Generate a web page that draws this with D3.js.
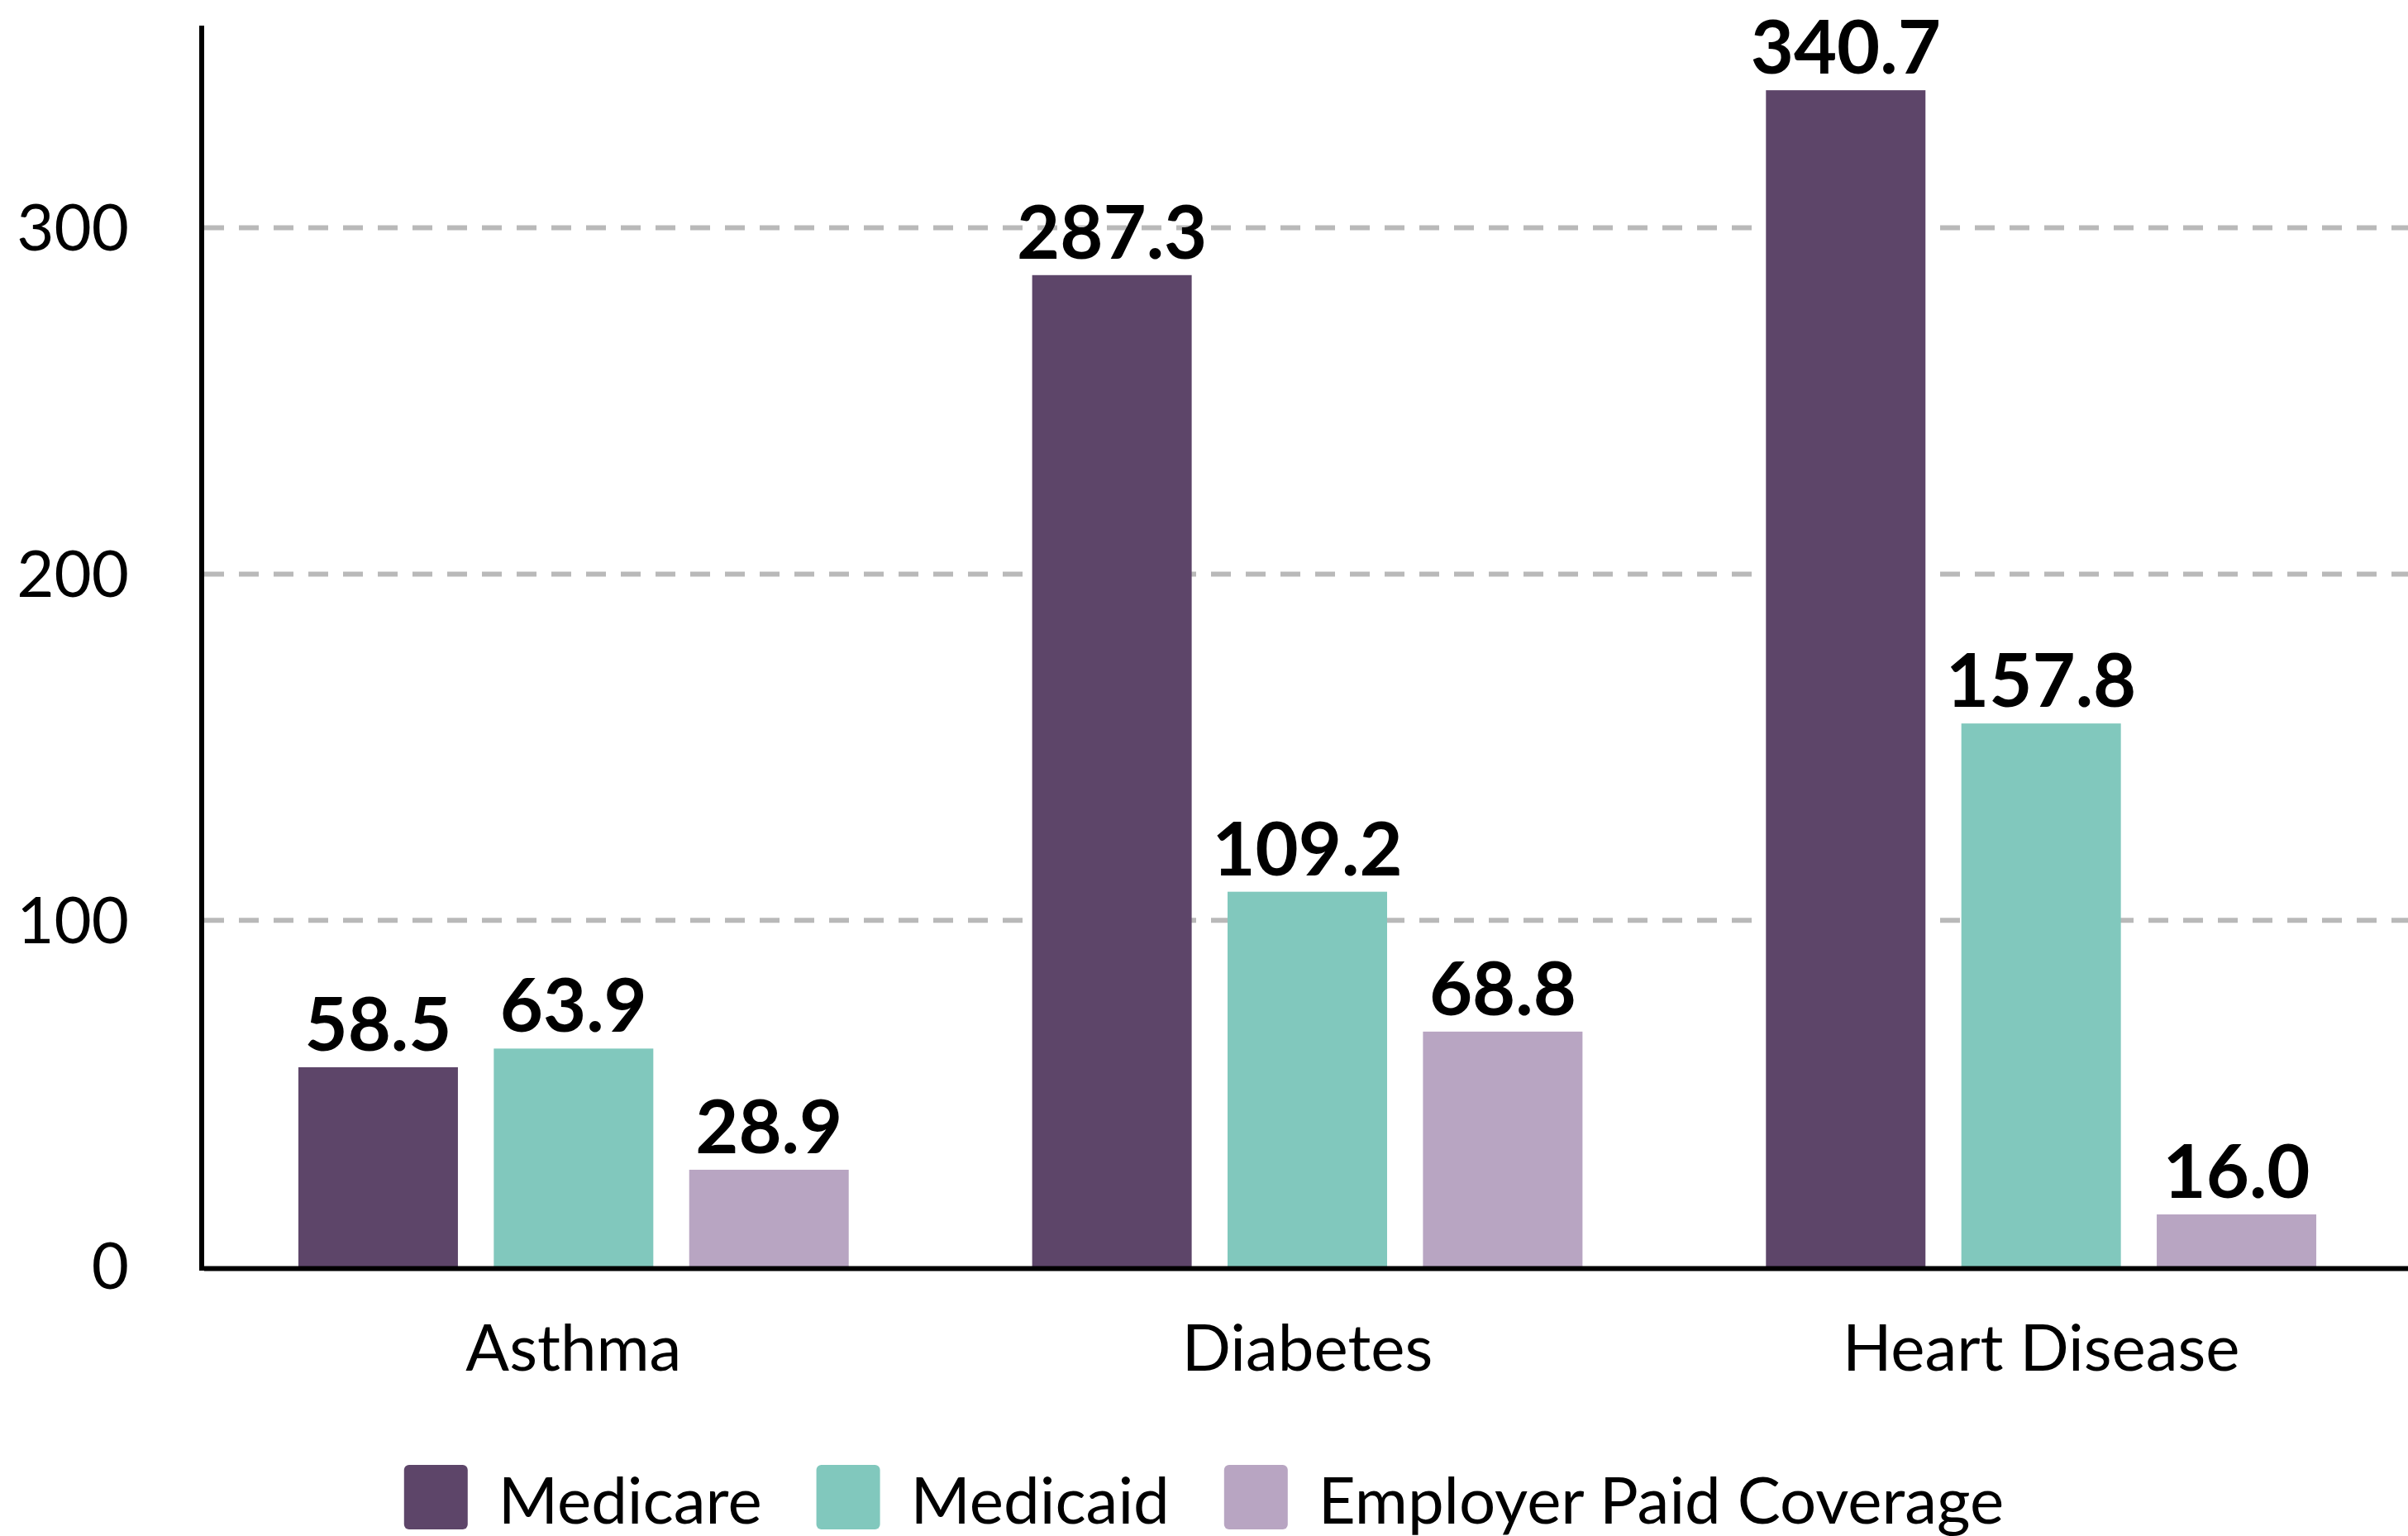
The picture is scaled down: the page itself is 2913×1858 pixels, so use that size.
<!DOCTYPE html>
<html>
<head>
<meta charset="utf-8">
<script src="https://cdn.jsdelivr.net/npm/d3@7"></script>
<style>
  body { margin: 0; background: #fff; }
  text { font-family: Lato, "Open Sans", sans-serif; }
</style>
</head>
<body>
<div id="chart"></div>
<script>
var width  = 2913;
var height = 1858;

var categories = ["Asthma", "Diabetes", "Heart Disease"];
var seriesNames = ["Medicare", "Medicaid", "Employer Paid Coverage"];
var medicare  = [58.5, 287.3, 340.7];
var medicaid  = [63.9, 109.2, 157.8];
var employer  = [28.9, 68.8, 16.0];
var yTicks = [0, 100, 200, 300];
var colors = ["#5d4569", "#81c8bd", "#b8a5c2"];

var values = [medicare, medicaid, employer];

var svg = d3.select("#chart").append("svg")
  .attr("width", width).attr("height", height);

// scales
var x0 = d3.scaleBand().domain(categories).range([250, 2913]).paddingInner(0.25).paddingOuter(0.125);
var x1 = d3.scaleBand().domain(seriesNames).range([0, x0.bandwidth()]).paddingInner(0.1836).paddingOuter(0);
var y = d3.scaleLinear().domain([0, 358]).range([1536, 36.7]);

// grid lines
svg.append("g").selectAll("line").data(yTicks.filter(function(d){ return d > 0; }))
  .enter().append("line")
  .attr("x1", 247).attr("x2", width)
  .attr("y1", function(d){ return y(d) - 4; }).attr("y2", function(d){ return y(d) - 4; })
  .attr("stroke", "#b9b9b9").attr("stroke-width", 6)
  .attr("stroke-dasharray", "24,18");

// y axis ticks (text only)
var yAxis = svg.append("g").attr("transform", "translate(156,-2)")
  .call(d3.axisLeft(y).tickValues(yTicks).tickSize(0).tickPadding(0));
yAxis.select(".domain").remove();
yAxis.selectAll("text")
  .attr("font-size", 78).attr("fill", "#000")
  .style("font-family", "Lato, sans-serif");

// bars
var groups = svg.append("g").selectAll("g").data(categories).enter().append("g")
  .attr("transform", function(d){ return "translate(" + x0(d) + ",0)"; });

groups.selectAll("rect").data(function(d, i){
    return seriesNames.map(function(s, j){ return {s: s, v: values[j][i], c: colors[j]}; });
  })
  .enter().append("rect")
  .attr("x", function(d){ return x1(d.s); })
  .attr("width", x1.bandwidth())
  .attr("y", function(d){ return y(d.v); })
  .attr("height", function(d){ return y(0) - y(d.v); })
  .attr("fill", function(d){ return d.c; });

groups.selectAll("text.val").data(function(d, i){
    return seriesNames.map(function(s, j){ return {s: s, v: values[j][i]}; });
  })
  .enter().append("text").attr("class", "val")
  .attr("x", function(d){ return x1(d.s) + x1.bandwidth() / 2; })
  .attr("y", function(d){ return y(d.v) - 20; })
  .attr("text-anchor", "middle")
  .attr("font-size", 90).attr("font-weight", "bold").attr("fill", "#000")
  .text(function(d){ return d.v.toFixed(1); });

// axes lines
svg.append("line").attr("x1", 244).attr("x2", 244).attr("y1", 31).attr("y2", 1537)
  .attr("stroke", "#000").attr("stroke-width", 6);

var xAxis = svg.append("g").attr("transform", "translate(0," + (y(0) - 1.5) + ")")
  .call(d3.axisBottom(x0).tickSize(0).tickPadding(0));
xAxis.select(".domain").attr("stroke", "#000").attr("stroke-width", 6)
  .attr("d", "M247,0H" + width);
xAxis.selectAll("text")
  .attr("y", 123).attr("dy", null)
  .attr("font-size", 78).attr("fill", "#000")
  .style("font-family", "Lato, sans-serif");

// legend
var legend = svg.append("g");
var items = legend.selectAll("g").data(seriesNames).enter().append("g");
items.append("rect").attr("width", 77).attr("height", 78).attr("rx", 6)
  .attr("y", 1772)
  .attr("fill", function(d, i){ return colors[i]; });
items.append("text").attr("x", 114).attr("y", 1843)
  .attr("font-size", 78).attr("fill", "#000")
  .text(function(d){ return d; });

var pos = 0;
items.each(function(){
  var w = 114 + d3.select(this).select("text").node().getComputedTextLength();
  d3.select(this).attr("transform", "translate(" + pos + ",0)");
  pos += w + 66;
});
var total = pos - 66;
legend.attr("transform", "translate(" + (width / 2 - total / 2) + ",0)");
</script>
</body>
</html>
